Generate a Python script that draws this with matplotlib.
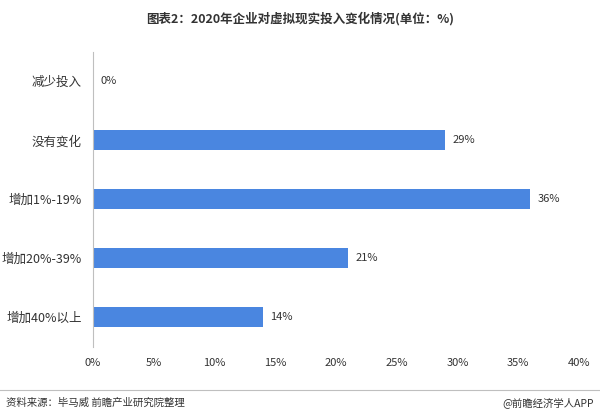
import matplotlib.pyplot as plt

plt.rcParams['font.family'] = ['Noto Sans CJK SC', 'DejaVu Sans']

categories = ["减少投入", "没有变化", "增加1%-19%", "增加20%-39%", "增加40%以上"]
values = [0, 29, 36, 21, 14]
xticks = [0, 5, 10, 15, 20, 25, 30, 35, 40]

fig = plt.figure(figsize=(6.0, 4.15), dpi=100)
ax = fig.add_axes([0.155, 0.165, 0.81, 0.71])

ypos = list(range(len(categories)))
ax.barh(ypos, values, height=0.34, color="#4a86e0")
for y, v in zip(ypos, values):
    ax.text(v + 0.6, y, f"{v}%", va="center", ha="left", fontsize=8, color="#333333")

ax.set_xlim(0, 40)
ax.set_ylim(len(categories) - 0.5, -0.5)
ax.set_yticks(ypos)
ax.set_yticklabels(categories, fontsize=9, color="#333333")
ax.set_xticks(xticks)
ax.set_xticklabels([f"{t}%" for t in xticks], fontsize=8, color="#333333")
ax.tick_params(length=0, pad=8)
for s in ["top", "right", "bottom"]:
    ax.spines[s].set_visible(False)
ax.spines["left"].set_color("#bfbfbf")

fig.text(0.5, 0.955, "图表2：2020年企业对虚拟现实投入变化情况(单位：%)", ha="center", va="center",
         fontsize=9, fontweight="bold", color="#333333")
fig.add_artist(plt.Line2D([0, 1], [0.06, 0.06], color="#bfbfbf", lw=0.8))
fig.text(0.01, 0.03, "资料来源：毕马威 前瞻产业研究院整理", ha="left", va="center", fontsize=7.5, color="#333333")
fig.text(0.99, 0.03, "@前瞻经济学人APP", ha="right", va="center", fontsize=7.5, color="#333333")

fig.savefig("out.png", dpi=100)
